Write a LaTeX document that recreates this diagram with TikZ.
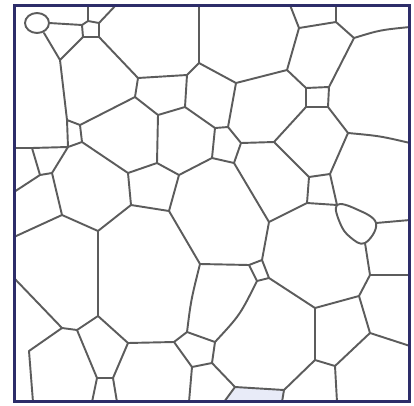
\documentclass[tikz,border=0pt]{standalone}
\begin{document}
\definecolor{gb}{RGB}{92,92,92}
\definecolor{framec}{RGB}{45,45,105}
\definecolor{tint}{RGB}{232,235,248}
\tikzset{gbd/.style={draw=gb, line width=0.48mm, line cap=round, line join=round},
  framebox/.style={draw=framec, line width=0.85mm}}
\begin{tikzpicture}[x=0.25mm,y=-0.25mm]
\useasboundingbox (0,0) rectangle (414,406);
\fill[white] (0,0) rectangle (414,406);
% frame corners
\coordinate (F1) at (14.5,5.5);
\coordinate (F2) at (409.5,401.5);
% top-left
\coordinate (a1) at (49,23);
\coordinate (a2) at (44,33);
\coordinate (s1) at (82,25);
\coordinate (s2) at (88,21);
\coordinate (s3) at (99,23);
\coordinate (s4) at (99,37);
\coordinate (s5) at (83,37);
\coordinate (t0) at (88,5);
\coordinate (t1) at (116,5);
\coordinate (v60) at (60,60);
\coordinate (q1) at (67,120);
\coordinate (q2) at (80,125);
\coordinate (q3) at (82,142);
\coordinate (q4) at (68,147);
\coordinate (T1) at (32,148);
\coordinate (T3) at (52,173);
\coordinate (T4) at (40,175);
\coordinate (L1) at (14,148);
\coordinate (L2) at (14,192);
\coordinate (e62) at (62,215);
\coordinate (L3) at (14,237);
\coordinate (f98) at (98,231);
\coordinate (V131) at (131,205);
\coordinate (g98) at (98,316);
\coordinate (d128) at (128,173);
\coordinate (h169) at (169,211);
\coordinate (i156) at (157,163);
\coordinate (j158) at (158,115);
\coordinate (c135) at (135,97);
\coordinate (b138) at (138,78);
\coordinate (k187) at (187,75);
\coordinate (l199) at (199,63);
\coordinate (tl) at (199,5);
\coordinate (m185) at (185,107);
\coordinate (n237) at (236,83);
\coordinate (o287) at (287,70);
\coordinate (p299) at (299,28);
\coordinate (tp) at (290,5);
\coordinate (r336) at (336,22);
\coordinate (tr) at (336,5);
\coordinate (u354) at (354,38);
\coordinate (R1) at (410,27);
% square
\coordinate (sq1) at (306,88);
\coordinate (sq2) at (329,87);
\coordinate (sq3) at (328,107);
\coordinate (sq4) at (306,107);
% hex
\coordinate (h3) at (348,133);
\coordinate (h4) at (330,174);
\coordinate (h5) at (309,177);
\coordinate (h6) at (274,142);
\coordinate (R2) at (410,143);
% pentagon
\coordinate (P1) at (215,128);
\coordinate (P2) at (228,127);
\coordinate (P3) at (241,143);
\coordinate (P4) at (234,163);
\coordinate (P5) at (212,158);
\coordinate (w179) at (179,175);
\coordinate (x269) at (269,222);
\coordinate (y200) at (200,264);
\coordinate (z1) at (249,265);
\coordinate (z2) at (262,260);
\coordinate (z3) at (269,278);
\coordinate (z4) at (257,281);
\coordinate (sc2) at (307,203);
\coordinate (sc3) at (337,205);
\coordinate (ovr) at (376,223);
\coordinate (ovb) at (365,243);
\coordinate (R3) at (410,220);
\coordinate (aa) at (370,275);
\coordinate (R4) at (410,275);
\coordinate (bb) at (359,296);
\coordinate (cc) at (315,308);
\coordinate (dd) at (315,360);
\coordinate (ee) at (370,333);
\coordinate (R5) at (410,346);
\coordinate (ff) at (335,366);
\coordinate (B1) at (337,402);
\coordinate (gg) at (284,390);
\coordinate (B2) at (282,402);
\coordinate (hh) at (235,387);
\coordinate (B3) at (224,402);
\coordinate (r1) at (174,342);
\coordinate (r2) at (187,332);
\coordinate (r3) at (215,342);
\coordinate (r4) at (212,363);
\coordinate (r5) at (192,367);
\coordinate (B4) at (189,402);
\coordinate (g1) at (77,330);
\coordinate (g2) at (128,343);
\coordinate (g3) at (113,378);
\coordinate (g4) at (97,378);
\coordinate (B5) at (92,402);
\coordinate (B6) at (117,402);
\coordinate (k62) at (62,328);
\coordinate (L4) at (14,278);
\coordinate (k28) at (29,351);
\coordinate (B7) at (33,402);

% faint tinted cell at the bottom
\fill[tint] (B3) -- (hh) -- (gg) -- (B2) -- cycle;

% grain boundaries
\draw[gbd] (37,23) ellipse [x radius=3mm, y radius=2.5mm];
\draw[gbd] (s1) -- (s2) -- (s3) -- (s4) -- (s5) -- cycle;
\draw[gbd] (a1) -- (s1);
\draw[gbd] (a2) -- (v60) -- (s5);
\draw[gbd] (s2) -- (t0);
\draw[gbd] (s3) -- (t1);
\draw[gbd] (s4) -- (b138);
\draw[gbd] (v60) .. controls (64,90) .. (q1);
\draw[gbd] (q1) -- (q2) -- (q3) -- (q4) -- cycle;
\draw[gbd] (q2) -- (c135);
\draw[gbd] (q3) -- (d128);
\draw[gbd] (T1) -- (q4) -- (T3) -- (T4) -- cycle;
\draw[gbd] (T1) -- (L1);
\draw[gbd] (T4) -- (L2);
\draw[gbd] (T3) -- (e62);
\draw[gbd] (e62) -- (L3);
\draw[gbd] (e62) -- (f98);
\draw[gbd] (f98) -- (V131);
\draw[gbd] (f98) -- (g98);
\draw[gbd] (V131) -- (d128);
\draw[gbd] (V131) -- (h169);
\draw[gbd] (d128) -- (i156);
\draw[gbd] (i156) -- (j158);
\draw[gbd] (c135) -- (j158);
\draw[gbd] (c135) -- (b138);
\draw[gbd] (b138) -- (k187);
\draw[gbd] (k187) -- (l199);
\draw[gbd] (l199) -- (tl);
\draw[gbd] (k187) -- (m185);
\draw[gbd] (m185) -- (j158);
\draw[gbd] (m185) -- (P1);
\draw[gbd] (l199) -- (n237);
\draw[gbd] (n237) -- (P2);
\draw[gbd] (n237) -- (o287);
\draw[gbd] (o287) -- (p299);
\draw[gbd] (p299) -- (tp);
\draw[gbd] (p299) -- (r336);
\draw[gbd] (r336) -- (tr);
\draw[gbd] (r336) -- (u354);
\draw[gbd] (u354) .. controls (380,30) .. (R1);
\draw[gbd] (u354) -- (sq2);
\draw[gbd] (o287) -- (sq1);
\draw[gbd] (sq1) -- (sq2) -- (sq3) -- (sq4) -- cycle;
\draw[gbd] (sq4) -- (h6) -- (h5) -- (h4) -- (h3) -- (sq3);
\draw[gbd] (h3) .. controls (380,136) .. (R2);
\draw[gbd] (h6) -- (P3);
\draw[gbd] (P1) -- (P2) -- (P3) -- (P4) -- (P5) -- cycle;
\draw[gbd] (P5) -- (w179);
\draw[gbd] (i156) -- (w179);
\draw[gbd] (w179) -- (h169);
\draw[gbd] (P4) -- (x269);
\draw[gbd] (h169) -- (y200);
\draw[gbd] (y200) -- (z1);
\draw[gbd] (z1) -- (z2) -- (z3) -- (z4) -- cycle;
\draw[gbd] (x269) -- (z2);
\draw[gbd] (x269) -- (sc2);
\draw[gbd] (h5) -- (sc2) -- (sc3) -- (h4);
\draw[gbd] plot[smooth cycle, tension=0.7] coordinates {(337,205) (356,209) (376,223) (365,243) (350,237) (340,223)};
\draw[gbd] (ovr) -- (R3);
\draw[gbd] (ovb) -- (aa);
\draw[gbd] (aa) -- (R4);
\draw[gbd] (aa) -- (bb);
\draw[gbd] (bb) -- (cc);
\draw[gbd] (cc) -- (z3);
\draw[gbd] (cc) -- (dd);
\draw[gbd] (bb) -- (ee);
\draw[gbd] (ee) -- (R5);
\draw[gbd] (ee) -- (ff);
\draw[gbd] (ff) -- (dd);
\draw[gbd] (ff) -- (B1);
\draw[gbd] (dd) -- (gg);
\draw[gbd] (gg) -- (B2);
\draw[gbd] (gg) -- (hh);
\draw[gbd] (hh) -- (B3);
\draw[gbd] (hh) -- (r4);
\draw[gbd] (r1) -- (r2) -- (r3) -- (r4) -- (r5) -- cycle;
\draw[gbd] (r5) -- (B4);
\draw[gbd] (r3) .. controls (240,315) .. (z4);
\draw[gbd] (r2) .. controls (191,300) .. (y200);
\draw[gbd] (r1) -- (g2);
\draw[gbd] (g1) -- (g98) -- (g2) -- (g3) -- (g4) -- cycle;
\draw[gbd] (g4) -- (B5);
\draw[gbd] (g3) -- (B6);
\draw[gbd] (g1) -- (k62);
\draw[gbd] (k62) -- (L4);
\draw[gbd] (k62) -- (k28);
\draw[gbd] (k28) -- (B7);

% frame
\draw[framebox] (F1) rectangle (F2);
\end{tikzpicture}
\end{document}
